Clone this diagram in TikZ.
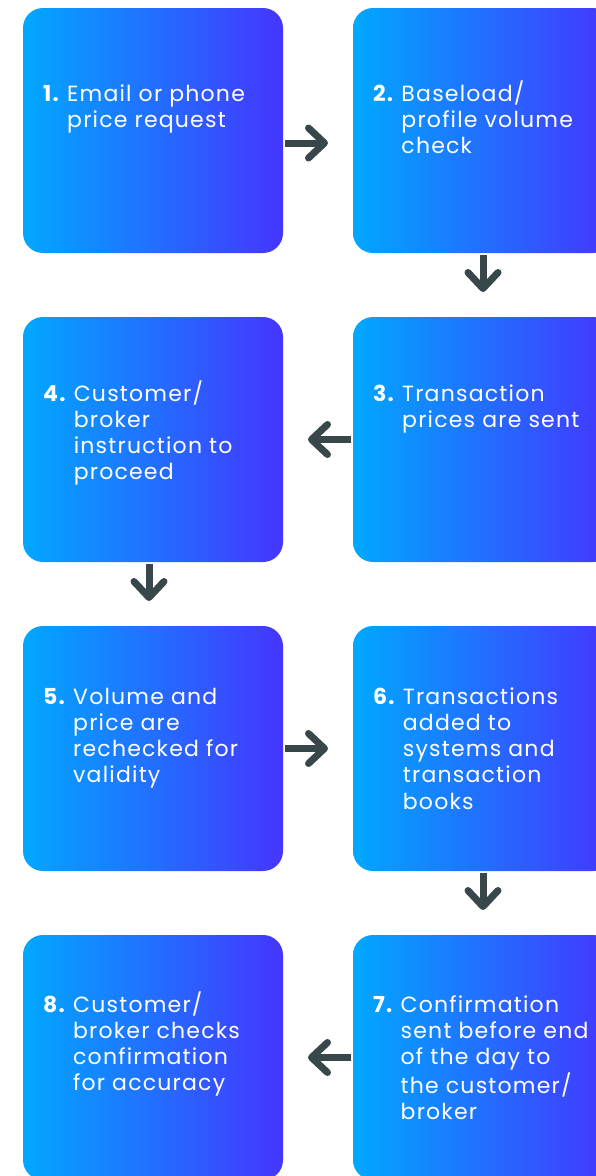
\documentclass[tikz,border=0pt]{standalone}
\usepackage{fontspec}
\setmainfont{Poppins}[LetterSpace=5.5]
\usetikzlibrary{arrows.meta,positioning}
\definecolor{stepleft}{HTML}{00A8FF}
\definecolor{stepright}{HTML}{4535FF}
\definecolor{arrowgrey}{HTML}{37474A}
% bold number, then the lines of the step hung beside it
\newcommand{\stepnum}[2]{\textbf{#1}~\begin{tabular}[t]{@{}l@{}}#2\end{tabular}}
\tikzset{%
  >={Straight Barb[round,length=16pt,width=30pt]},
  % Specifications for style of nodes:
   stepbox/.style = {rectangle, rounded corners=20pt, outer sep=0pt, inner sep=0pt,
                     minimum width=260pt, minimum height=245pt,
                     left color=stepleft, right color=stepright},
  steptext/.style = {anchor=base west, inner sep=0pt, text=white,
                     font=\fontsize{22}{26.3}\selectfont},
      flow/.style = {->, draw=arrowgrey, line width=7pt,
                     shorten <=2pt, shorten >=25pt}
}

\begin{document}
\begin{tikzpicture}[x=1pt, y=-1pt, node distance=70pt]
  \useasboundingbox (0,0) rectangle (596,1176);

  \node (box1) [stepbox, anchor=north west] at (23,8) {};
  \node (box2) [stepbox, right=of box1]          {};
  \node (box3) [stepbox, below=64pt of box2]     {};
  \node (box4) [stepbox, left=of box3]           {};
  \node (box5) [stepbox, below=64pt of box4]     {};
  \node (box6) [stepbox, right=of box5]          {};
  \node (box7) [stepbox, below=64pt of box6]     {};
  \node (box8) [stepbox, left=of box7]           {};

  \node (text1) [steptext] at ([shift={(20,93)}]box1.north west)
    {\stepnum{1.}{Email or phone\\price request}};
  \node (text2) [steptext] at ([shift={(20,93)}]box2.north west)
    {\stepnum{2.}{Baseload/\\profile volume\\check}};
  \node (text3) [steptext] at ([shift={(20,84)}]box3.north west)
    {\stepnum{3.}{Transaction\\prices are sent}};
  \node (text4) [steptext] at ([shift={(20,84)}]box4.north west)
    {\stepnum{4.}{Customer/\\broker\\instruction to\\proceed}};
  \node (text5) [steptext] at ([shift={(20,78)}]box5.north west)
    {\stepnum{5.}{Volume and\\price are\\rechecked for\\validity}};
  \node (text6) [steptext] at ([shift={(20,78)}]box6.north west)
    {\stepnum{6.}{Transactions\\added to\\systems and\\transaction\\books}};
  \node (text7) [steptext] at ([shift={(20,77)}]box7.north west)
    {\stepnum{7.}{Confirmation\\sent before end\\of the day to\\the customer/\\broker}};
  \node (text8) [steptext] at ([shift={(20,77)}]box8.north west)
    {\stepnum{8.}{Customer/\\broker checks\\confirmation\\for accuracy}};

    \draw[flow] ([yshift=-12.5pt]box1.east) -- ([yshift=-12.5pt]box2.west);
    \draw[flow] (box2) -- (box3);
    \draw[flow] (box3) -- (box4);
    \draw[flow] ([xshift=-4pt]box4.south) -- ([xshift=-4pt]box5.north);
    \draw[flow] (box5) -- (box6);
    \draw[flow] (box6) -- (box7);
    \draw[flow] (box7) -- (box8);
\end{tikzpicture}
\end{document}
